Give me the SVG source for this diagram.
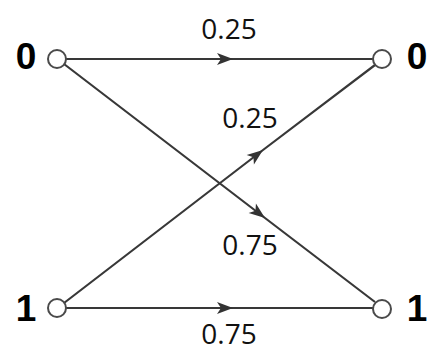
<svg xmlns="http://www.w3.org/2000/svg" width="427" height="351" viewBox="0 0 427 351">
  <defs>
    <marker id="arr" markerUnits="userSpaceOnUse" markerWidth="20" markerHeight="16" viewBox="-17 -8 20 16" refX="0" refY="0" orient="auto">
      <path d="M0,0 L-16,-6 L-12,0 L-16,6 Z" fill="#333"/>
    </marker>
  </defs>
  <style>
    .edge { fill: none; stroke: #383838; stroke-width: 2.2; marker-mid: url(#arr); }
    .node circle { fill: #fff; stroke: #4a4a4a; stroke-width: 2; }
    .nl { font-family: "Liberation Sans", Arial, sans-serif; font-weight: bold; font-size: 37px; fill: #000; text-anchor: middle; }
    .el { font-family: "Open Sans", "Liberation Sans", sans-serif; font-size: 28px; fill: #111; text-anchor: middle; }
  </style>
  <rect width="427" height="351" fill="#fff"/>
  <g id="connectors">
    <path class="edge" d="M66,59 L233,59 L373,59"/>
    <path class="edge" d="M64,64 L265,218 L375,302"/>
    <path class="edge" d="M64,303 L263,150 L375,65"/>
    <path class="edge" d="M66,308 L233,308 L373,308"/>
    <text class="el" x="229" y="39">0.25</text>
    <text class="el" x="250" y="128">0.25</text>
    <text class="el" x="250" y="255">0.75</text>
    <text class="el" x="229" y="344">0.75</text>
  </g>
  <g id="in0" class="node">
    <circle cx="57" cy="59" r="9"/>
    <text class="nl" x="26" y="69">0</text>
  </g>
  <g id="in1" class="node">
    <circle cx="57" cy="308" r="9"/>
    <text class="nl" x="26" y="321">1</text>
  </g>
  <g id="out0" class="node">
    <circle cx="382" cy="59" r="9"/>
    <text class="nl" x="417" y="69">0</text>
  </g>
  <g id="out1" class="node">
    <circle cx="382" cy="309" r="9"/>
    <text class="nl" x="417" y="321">1</text>
  </g>
</svg>
